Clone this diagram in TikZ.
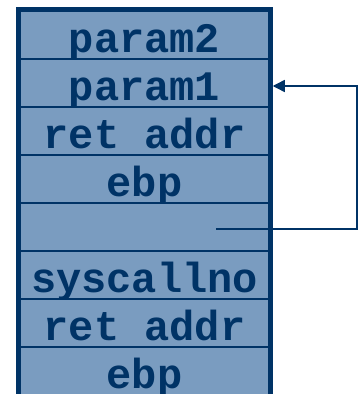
\documentclass[tikz,border=0pt]{standalone}
\usepackage{fontspec}
\setmonofont{Liberation Mono}
\usetikzlibrary{arrows.meta}
\definecolor{stackfill}{RGB}{122,156,192}
\definecolor{stacknavy}{RGB}{0,51,102}

\begin{document}
\begin{tikzpicture}[x=1pt,y=-1pt,
	slot/.style={draw=stacknavy, line width=2.5pt, fill=stackfill, minimum width=249pt, minimum height=48pt, inner sep=0pt},
	slottext/.style={anchor=base, text=stacknavy, inner sep=0pt, font=\fontsize{42}{42}\selectfont\ttfamily\bfseries},
	outline/.style={draw=stacknavy, line width=5pt},
	link/.style={draw=stacknavy, line width=1.4pt, -{Triangle[length=12pt,width=12pt]}, shorten >=2.5pt}]
			%%%%% STACK %%%%%
			\useasboundingbox (0,0) rectangle (358,394);
			
			\foreach \lbl [count=\i] in {param2,param1,ret addr,ebp,{},syscallno,ret addr,ebp} {
				\node[slot] (slot\i) at (144.5, {11+48*\i-24}) {};
				\node[slottext] (txt\i) at (144.5, {11+48*\i-7}) {\lbl};
			}
			
			\draw[outline] (slot1.north west) rectangle (slot8.south east);
			
			%%%%% POINTER %%%%%
			\coordinate (frameptr) at (216, 229);
			\draw[link] (frameptr) -- ++(141,0) |- ([yshift=-3pt]slot2.east);
			
			%%%%% END %%%%%
		\end{tikzpicture}
\end{document}
